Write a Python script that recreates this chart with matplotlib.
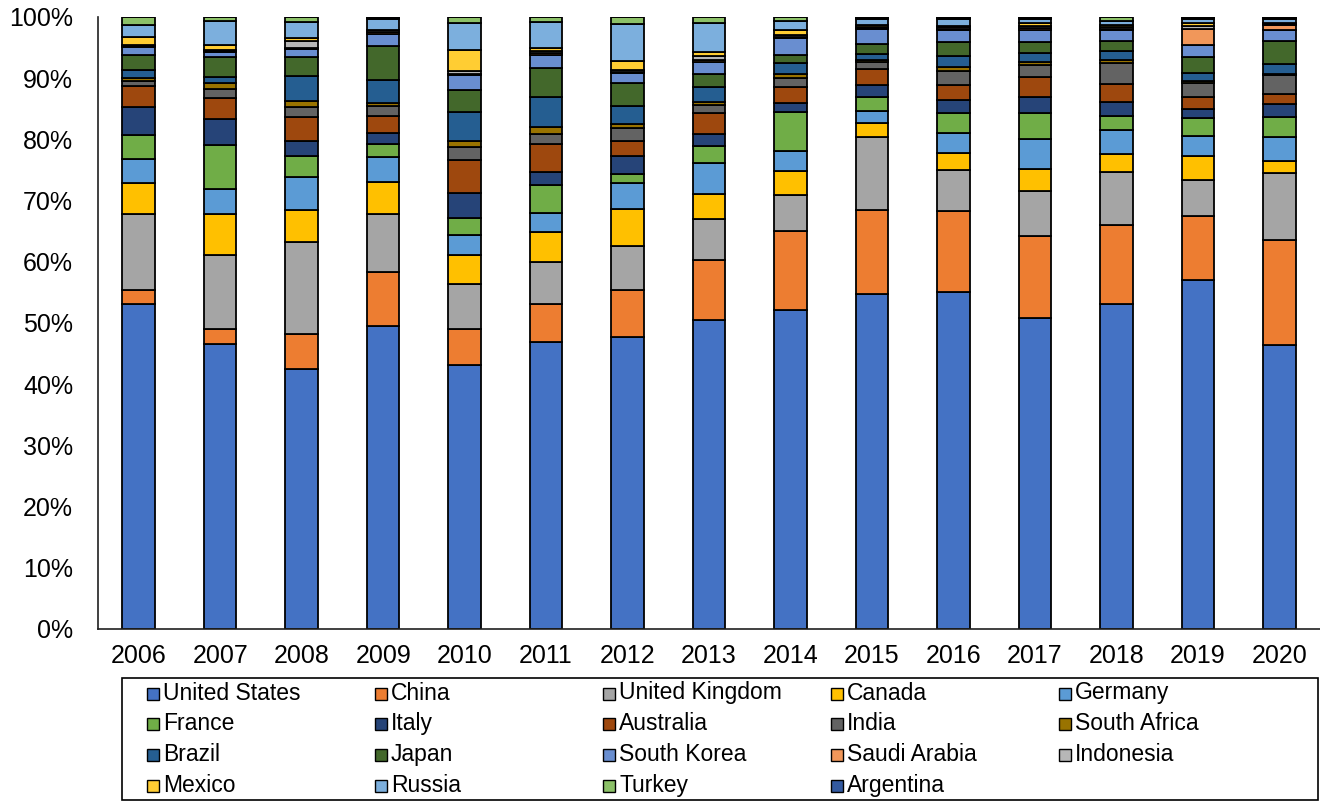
import matplotlib
matplotlib.use("Agg")
import matplotlib.pyplot as plt
import numpy as np
from matplotlib.patches import Rectangle

plt.rcParams["font.family"] = ["Liberation Sans", "DejaVu Sans"]

years = ["2006", "2007", "2008", "2009", "2010", "2011", "2012", "2013",
         "2014", "2015", "2016", "2017", "2018", "2019", "2020"]

# shares (percent of total per year)
united_states = [53.2, 46.6, 42.5, 49.6, 43.2, 47.1, 47.7, 50.7, 52.2, 54.9, 55.1, 51.0, 53.2, 57.1, 46.5]
china = [2.4, 2.4, 5.7, 8.8, 5.9, 6.1, 7.7, 9.7, 13.1, 13.7, 13.3, 13.4, 13.0, 10.6, 17.2]
united_kingdom = [12.4, 12.1, 15.1, 9.5, 7.3, 7.0, 7.1, 6.8, 5.9, 12.0, 6.6, 7.3, 8.6, 5.8, 10.9]
canada = [5.1, 6.8, 5.2, 5.2, 4.8, 4.8, 6.2, 4.1, 3.9, 2.3, 2.8, 3.7, 3.0, 3.9, 2.1]
germany = [4.0, 4.1, 5.4, 4.1, 3.2, 3.1, 4.1, 5.0, 3.3, 1.9, 3.4, 4.8, 3.9, 3.3, 3.9]
france = [3.8, 7.2, 3.4, 2.1, 2.9, 4.7, 1.6, 2.9, 6.3, 2.3, 3.2, 4.4, 2.3, 2.9, 3.3]
italy = [4.7, 4.1, 2.6, 1.9, 4.0, 2.1, 2.9, 2.0, 1.5, 2.0, 2.1, 2.5, 2.3, 1.5, 2.0]
australia = [3.4, 3.5, 3.9, 2.7, 5.4, 4.6, 2.5, 3.4, 2.7, 2.6, 2.5, 3.3, 2.9, 2.0, 1.7]
india = [0.8, 1.4, 1.5, 1.6, 2.2, 1.7, 2.1, 1.3, 1.4, 1.1, 2.2, 2.0, 3.4, 2.3, 3.1]
south_africa = [0.5, 1.0, 1.1, 0.5, 0.9, 1.1, 0.6, 0.5, 0.6, 0.4, 0.8, 0.4, 0.5, 0.3, 0.2]
brazil = [1.3, 1.1, 4.0, 3.8, 4.8, 4.9, 2.9, 2.5, 1.9, 0.9, 1.7, 1.5, 1.5, 1.4, 1.6]
japan = [2.5, 3.2, 3.2, 5.6, 3.6, 4.7, 3.8, 2.1, 1.3, 1.7, 2.3, 1.9, 1.6, 2.5, 3.8]
south_korea = [1.3, 0.8, 1.2, 2.0, 2.4, 2.1, 1.6, 2.0, 2.8, 2.5, 2.0, 1.9, 1.8, 2.0, 1.7]
saudi_arabia = [0.15, 0.2, 0.3, 0.2, 0.1, 0.35, 0.25, 0.2, 0.2, 0.1, 0.2, 0.3, 0.3, 2.6, 0.9]
indonesia = [0.15, 0.2, 1.0, 0.3, 0.6, 0.35, 0.25, 0.7, 0.2, 0.1, 0.3, 0.4, 0.3, 0.5, 0.15]
mexico = [1.4, 0.8, 0.5, 0.1, 3.4, 0.6, 1.5, 0.6, 0.8, 0.4, 0.2, 0.4, 0.3, 0.5, 0.15]
russia = [1.9, 3.9, 2.7, 1.7, 4.5, 4.2, 6.1, 4.8, 1.6, 0.9, 1.1, 0.65, 0.7, 0.7, 0.6]
turkey = [1.3, 0.65, 0.8, 0.2, 0.9, 0.8, 1.1, 1.0, 0.6, 0.3, 0.2, 0.2, 0.6, 0.15, 0.2]
argentina = [0.0, 0.0, 0.0, 0.2, 0.0, 0.0, 0.0, 0.0, 0.0, 0.1, 0.1, 0.2, 0.0, 0.15, 0.2]

countries = ["United States", "China", "United Kingdom", "Canada", "Germany",
             "France", "Italy", "Australia", "India", "South Africa",
             "Brazil", "Japan", "South Korea", "Saudi Arabia", "Indonesia",
             "Mexico", "Russia", "Turkey", "Argentina"]
series = [united_states, china, united_kingdom, canada, germany,
          france, italy, australia, india, south_africa,
          brazil, japan, south_korea, saudi_arabia, indonesia,
          mexico, russia, turkey, argentina]
colors = ["#4472C4", "#ED7D31", "#A5A5A5", "#FFC000", "#5B9BD5",
          "#70AD47", "#264478", "#9E480E", "#636363", "#997300",
          "#255E91", "#43682B", "#698ED0", "#F1975A", "#B7B7B7",
          "#FFCD33", "#7CAFDD", "#8CC168", "#335AA1"]

W, H = 1320, 801
fig = plt.figure(figsize=(W / 100, H / 100), dpi=100)
ax = fig.add_axes([98 / W, 1 - 629 / H, 1222 / W, 612 / H])

# 100% stacked, as in the original chart
data = np.array(series, dtype=float)
data = data / data.sum(axis=0) * 100
x = np.arange(len(years))
bottom = np.zeros(len(years))
for name, vals, col in zip(countries, data, colors):
    ax.bar(x, vals, 0.4, bottom=bottom, color=col, edgecolor="black",
           linewidth=1.3, label=name)
    bottom += vals

ax.set_xlim(-0.5, len(years) - 0.5)
ax.set_ylim(0, 100)
ax.set_xticks(x)
ax.set_xticklabels(years)
ax.set_yticks(np.arange(0, 101, 10))
ax.set_yticklabels([f"{v}%" for v in range(0, 101, 10)])
ax.tick_params(axis="both", length=0, labelsize=18)
ax.tick_params(axis="x", pad=11)
ax.tick_params(axis="y", pad=18)
for side in ("top", "right"):
    ax.spines[side].set_visible(False)
for side in ("left", "bottom"):
    ax.spines[side].set_color("#202020")
    ax.spines[side].set_linewidth(1.2)

# legend laid out in a 5-column grid, row by row like the original
fig.add_artist(Rectangle((122 / W, 1 - 800 / H), 1196 / W, 122 / H,
                         transform=fig.transFigure, fill=False,
                         edgecolor="black", linewidth=1.2))
for i, (name, col) in enumerate(zip(countries, colors)):
    row, c = divmod(i, 5)
    px = 147 + 228 * c
    py = 693 + 30.7 * row
    fig.add_artist(Rectangle((px / W, 1 - (py + 6.5) / H), 12 / W, 12 / H,
                             transform=fig.transFigure, facecolor=col,
                             edgecolor="black", linewidth=1.0))
    fig.text((px + 16) / W, 1 - py / H, name, fontsize=16.5,
             va="center", ha="left")

fig.savefig("out.png", dpi=100)
